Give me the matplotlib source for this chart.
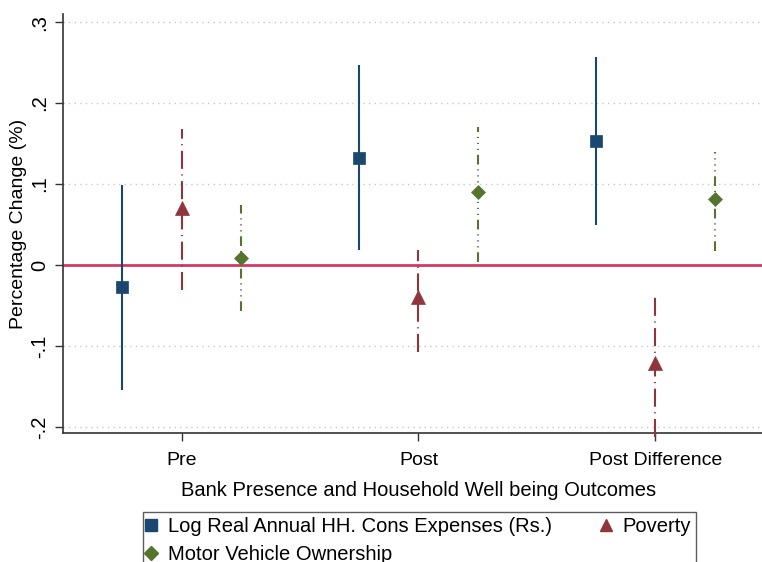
import matplotlib
matplotlib.use("Agg")
import matplotlib.pyplot as plt
from matplotlib.lines import Line2D

plt.rcParams['font.family'] = ['Liberation Sans', 'DejaVu Sans']
plt.rcParams['lines.scale_dashes'] = False

# Datos
categorias = ['Pre', 'Post', 'Post Difference']
etiquetas = ['Log Real Annual HH. Cons Expenses (Rs.)', 'Poverty', 'Motor Vehicle Ownership']

cons_est = [-0.027, 0.132, 0.153]
cons_lo = [-0.154, 0.019, 0.049]
cons_hi = [0.099, 0.247, 0.257]

pov_est = [0.070, -0.040, -0.121]
pov_lo = [-0.031, -0.107, -0.212]
pov_hi = [0.168, 0.019, -0.040]

mv_est = [0.009, 0.090, 0.081]
mv_lo = [-0.057, 0.004, 0.017]
mv_hi = [0.074, 0.170, 0.139]

yticks = [-0.2, -0.1, 0.0, 0.1, 0.2, 0.3]
ytick_labels = ['-.2', '-.1', '0', '.1', '.2', '.3']

# Estilos
azul, rojo, verde = '#1a476f', '#90353b', '#55752f'
series = [
    (cons_est, cons_lo, cons_hi, -0.25, azul, 's', 8.5, '-'),
    (pov_est, pov_lo, pov_hi, 0.0, rojo, '^', 9.5, (0, (13, 4, 0.8, 4))),
    (mv_est, mv_lo, mv_hi, 0.25, verde, 'D', 7.5, (0, (7, 3.5, 0.8, 3.5, 0.8, 3.5, 0.8, 3.5))),
]

fig = plt.figure(figsize=(7.62, 5.62), dpi=100)
ax = fig.add_axes([0.0827, 0.2295, 0.933, 0.7456])

for est, lo, hi, off, col, mk, ms, ls in series:
    for i in range(len(categorias)):
        x = i + 1 + off
        ax.plot([x, x], [lo[i], hi[i]], color=col, lw=1.5, ls=ls,
                solid_capstyle='butt', dash_capstyle='butt', clip_on=False, zorder=3)
    xs = [i + 1 + off for i in range(len(categorias))]
    ax.plot(xs, est, ls='none', marker=mk, ms=ms, color=col,
            markeredgecolor=col, markeredgewidth=0.5, zorder=4)

ax.axhline(0, color='#d23a64', lw=2, zorder=2)

ax.set_xlim(0.5, 3.5)
ax.set_ylim(-0.2074, 0.31)
ax.set_xticks([1, 2, 3])
ax.set_xticklabels(categorias, fontsize=14)
ax.set_yticks(yticks)
ax.set_yticklabels(ytick_labels, fontsize=14.5, rotation=90, va='center')
ax.grid(axis='y', color='#c8c8c8', ls=(0, (1, 3)), lw=1)
ax.set_axisbelow(True)

for s in ['top', 'right']:
    ax.spines[s].set_visible(False)
for s in ['left', 'bottom']:
    ax.spines[s].set_color('#333333')
    ax.spines[s].set_linewidth(1.2)
ax.tick_params(axis='both', length=6, width=1, color='#333333')
ax.tick_params(axis='x', pad=8)
ax.tick_params(axis='y', pad=4)

ax.set_xlabel('Bank Presence and Household Well being Outcomes', fontsize=14.5, labelpad=8)
ax.set_ylabel('Percentage Change (%)', fontsize=14, labelpad=2)

handles = [
    Line2D([], [], ls='none', marker='s', ms=8, color=azul),
    Line2D([], [], ls='none', marker='D', ms=7, color=verde),
    Line2D([], [], ls='none', marker='^', ms=9, color=rojo),
]
leg = fig.legend(handles, [etiquetas[0], etiquetas[2], etiquetas[1]], ncol=2,
                 loc='upper left', bbox_to_anchor=(143 / 762, 1 - 512 / 562),
                 borderaxespad=0, fontsize=14.5, frameon=True, fancybox=False,
                 handlelength=0.3, handletextpad=0.7, borderpad=0.25,
                 columnspacing=2.5, labelspacing=0.45)
leg.get_frame().set_edgecolor('#333333')
leg.get_frame().set_linewidth(1)

fig.savefig('out.png', dpi=100)
